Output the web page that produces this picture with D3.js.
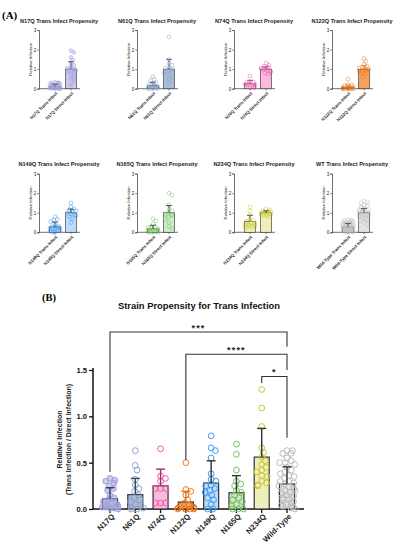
<!DOCTYPE html>
<html><head><meta charset="utf-8">
<script src="https://cdn.jsdelivr.net/npm/d3@7"></script>
<style>body{margin:0;background:#fff}svg{display:block;font-family:"Liberation Sans",Arial,sans-serif}svg text{font-family:"Liberation Sans",Arial,sans-serif}svg text.serif{font-family:"Liberation Serif",serif}</style>
</head><body><svg id="c" width="395" height="550"></svg>
<script>
// ---------- DATA ----------
const strains = ["N17Q","N61Q","N74Q","N122Q","N149Q","N165Q","N234Q","Wild-Type"];
const shortNames = ["N17Q","N61Q","N74Q","N122Q","N149Q","N165Q","N234Q","WT"];
const labelNames = ["N17Q","N61Q","N74Q","N122Q","N149Q","N165Q","N234Q","Wild-Type"];
const transMean = [0.11,0.155,0.25,0.075,0.28,0.175,0.56,0.27];
const transSD   = [0.12,0.175,0.18,0.115,0.24,0.185,0.31,0.185];
const directMean = [1,1,1,1,1,1,1,1];
const directSD   = [0.38,0.5,0.12,0.17,0.18,0.37,0.1,0.22];
const transPoints = [
 [0.33,0.31,0.3,0.28,0.25,0.22,0.2,0.15,0.12,0.1,0.08,0.06,0.05,0.04,0.03,0.02,0.02,0.01,0.01,0.0],
 [0.63,0.47,0.42,0.32,0.26,0.22,0.19,0.15,0.12,0.1,0.08,0.05,0.04,0.02,0.01,0.0,0.0],
 [0.65,0.355,0.33,0.3,0.22,0.22,0.22,0.065,0.065,0.065],
 [0.5,0.21,0.19,0.15,0.1,0.06,0.04,0.03,0.02,0.01,0.01,0.0,0.0,0.0,0.0,0.0],
 [0.79,0.66,0.63,0.55,0.38,0.32,0.3,0.26,0.25,0.22,0.2,0.18,0.15,0.12,0.1,0.05,0.0,0.0],
 [0.7,0.59,0.42,0.3,0.27,0.25,0.2,0.18,0.15,0.12,0.1,0.08,0.05,0.03,0.0,0.0,0.0],
 [1.29,1.09,0.89,0.66,0.61,0.56,0.52,0.48,0.45,0.42,0.4,0.36,0.35,0.3,0.28,0.26,0.25],
 [0.63,0.63,0.6,0.6,0.55,0.52,0.5,0.5,0.48,0.45,0.42,0.4,0.38,0.36,0.35,0.33,0.3,0.3,0.28,0.27,0.25,0.24,0.22,0.2,0.2,0.18,0.17,0.15,0.14,0.12,0.1,0.1,0.08,0.07,0.05,0.04,0.03,0.02,0.01,0.0]
];
const directPoints = [
 [1.95,1.85,1.6,1.45,1.3,1.2,1.1,1.05,1.0,0.95,0.9,0.85,0.8,0.7,0.6,0.5,0.4,0.2],
 [2.65,1.5,1.3,1.2,1.1,1.05,1.0,0.95,0.9,0.85,0.8,0.7,0.6,0.5,0.4,0.3],
 [1.3,1.2,1.15,1.1,1.05,1.0,1.0,0.95,0.9,0.85,0.8,0.75],
 [1.55,1.4,1.25,1.15,1.1,1.05,1.0,1.0,0.95,0.9,0.9,0.85,0.8,0.75,0.6],
 [1.5,1.3,1.2,1.15,1.1,1.05,1.0,0.95,0.9,0.85,0.8,0.7,0.5],
 [2.0,1.9,1.4,1.2,1.1,1.0,0.95,0.9,0.85,0.8,0.7,0.5,0.3,0.2],
 [1.2,1.15,1.1,1.08,1.05,1.02,1.0,0.98,0.95,0.92,0.9,0.88,0.85,0.8],
 [1.6,1.55,1.5,1.4,1.35,1.3,1.25,1.2,1.15,1.1,1.1,1.05,1.05,1.0,1.0,0.95,0.95,0.9,0.9,0.85,0.8,0.75,0.7,0.65,0.6,0.5,0.4]
];
const smallTicks = [0,1,2,3];
const bigTicks = [0,0.5,1.0,1.5];
// significance comparisons
const sigFrom = ["N17Q","N122Q","N234Q"];
const sigTo = ["Wild-Type","Wild-Type","Wild-Type"];
const sigLabel = ["***","****","*"];
const sigLevel = [1.91,1.67,1.43];
const sigLeftEnd = [0.40,0.53,1.36];
const sigRightEnd = [1.75,1.5,0.77];

// ---------- STYLE ----------
const barFill = ["#cbcbef","#aabcd7","#f9bade","#f7a25c","#bcdcfa","#d0eac6","#eeefb9","#e3e3e3"];
const ptColor = ["#a3a3dd","#8ea3c6","#ee58ab","#f2791e","#3f9af2","#74c263","#c8c92c","#bcbcbc"];
const ptFill  = ["rgba(163,163,221,0.55)","none","none","none","none","none","none","none"];
const errColor = ["#3e3e72","#36465f","#9e2c6c","#e5701b","#333","#333","#333","#333"];

const svg = d3.select("#c");

function swarm(vals, ys, r, maxW){
  const placed=[];
  return vals.map((v,i)=>{
    const y=ys(v); let dx=null;
    for(let k=0;k<60 && dx===null;k++){
      const cands = k===0?[0]:[k*0.6,-k*0.6];
      for(const c of cands){
        if(Math.abs(c)>maxW) continue;
        if(placed.every(p=>(p.x-c)**2+(p.y-y)**2 >= (1.7*r)**2)){dx=c;break;}
      }
    }
    if(dx===null) dx = ((i%5)-2)*maxW/2;
    placed.push({x:dx,y:y});
    return dx;
  });
}

// ---------- PANEL A ----------
svg.append("text").attr("class","serif").attr("x",2).attr("y",19).text("(A)")
  .attr("font-weight","bold").attr("font-size",11);

const colX = [39,137,234,332];
const rowY0 = [88.7,232.3];
strains.forEach((s,i)=>{
  const ax = colX[i%4], y0 = rowY0[Math.floor(i/4)];
  const g = svg.append("g");
  const ys = d3.scaleLinear().domain([0,3]).range([y0,y0-58.7]);
  const xs = d3.scalePoint().domain(["t","d"]).range([ax+16,ax+32]);
  g.append("text").attr("x",ax+20).attr("y",y0-66).attr("text-anchor","middle")
    .attr("font-size",5.6).attr("font-weight","bold").attr("fill","#222")
    .text(shortNames[i]+" Trans Infect Propensity");
  const yAx = g.append("g").attr("transform",`translate(${ax},0)`)
    .call(d3.axisLeft(ys).tickValues(smallTicks).tickSize(1.8).tickPadding(1).tickFormat(d3.format("d")));
  yAx.select(".domain").attr("stroke","#333").attr("stroke-width",0.7);
  yAx.selectAll(".tick line").attr("stroke","#333").attr("stroke-width",0.6);
  yAx.selectAll("text").attr("font-size",4.5).attr("fill","#222");
  g.append("text").attr("transform",`translate(${ax-7},${ys(1.5)}) rotate(-90)`)
    .attr("text-anchor","middle").attr("font-size",4.3).attr("fill","#222").text("Relative Infection");
  g.append("line").attr("x1",ax).attr("x2",ax+41).attr("y1",y0).attr("y2",y0).attr("stroke","#333").attr("stroke-width",0.7);
  const groups = [
    {k:"t",m:transMean[i],sd:transSD[i],pts:transPoints[i],lab:labelNames[i]+" Trans Infect"},
    {k:"d",m:directMean[i],sd:directSD[i],pts:directPoints[i],lab:labelNames[i]+" Direct Infect"}
  ];
  groups.forEach(gr=>{
    const cx = xs(gr.k);
    g.append("line").attr("x1",cx).attr("x2",cx).attr("y1",y0).attr("y2",y0+1.8).attr("stroke","#333").attr("stroke-width",0.6);
    g.append("rect").attr("x",cx-5.5).attr("width",11).attr("y",ys(gr.m)).attr("height",y0-ys(gr.m))
      .attr("fill",barFill[i]).attr("stroke","#444").attr("stroke-width",0.7);
    const sorted = gr.pts.slice().sort((a,b)=>b-a);
    const offs = swarm(sorted, ys, 1.9, 5);
    sorted.forEach((v,j)=>{
      g.append("circle").attr("cx",cx+offs[j]).attr("cy",ys(v)).attr("r",1.9)
        .attr("fill",ptFill[i]).attr("stroke",ptColor[i]).attr("stroke-width",0.7).attr("opacity",0.7);
    });
    g.append("line").attr("x1",cx).attr("x2",cx).attr("y1",ys(gr.m)).attr("y2",ys(gr.m+gr.sd)).attr("stroke",errColor[i]).attr("stroke-width",0.8);
    g.append("line").attr("x1",cx-3).attr("x2",cx+3).attr("y1",ys(gr.m+gr.sd)).attr("y2",ys(gr.m+gr.sd)).attr("stroke",errColor[i]).attr("stroke-width",0.8);
    g.append("text").attr("transform",`translate(${cx+1.5},${y0+4}) rotate(-45)`)
      .attr("text-anchor","end").attr("dy","0.35em").attr("font-size",4.3).attr("font-weight","bold").attr("fill","#222").text(gr.lab);
  });
});

// ---------- PANEL B ----------
svg.append("text").attr("class","serif").attr("x",42).attr("y",301).text("(B)")
  .attr("font-weight","bold").attr("font-size",10.5);
svg.append("text").attr("x",199).attr("y",309).attr("text-anchor","middle").attr("font-size",9.4)
  .attr("font-weight","bold").attr("fill","#111").text("Strain Propensity for Trans Infection");

const by = d3.scaleLinear().domain([0,1.5]).range([509,370]);
const bx = d3.scalePoint().domain(strains).range([110,287]);
const B = svg.append("g");
const bAx = B.append("g").attr("transform","translate(93,0)")
  .call(d3.axisLeft(by).tickValues(bigTicks).tickSize(4).tickPadding(2).tickFormat(d3.format(".1f")));
bAx.select(".domain").attr("stroke","#111").attr("stroke-width",1.5).attr("d","M0,368V509");
bAx.selectAll(".tick line").attr("stroke","#111").attr("stroke-width",1.3);
bAx.selectAll("text").attr("font-size",7.6).attr("font-weight","bold").attr("fill","#111");
B.append("text").attr("transform",`translate(62,${by(0.75)}) rotate(-90)`).attr("text-anchor","middle")
  .attr("font-size",7).attr("font-weight","bold").attr("fill","#222").text("Relative Infection");
B.append("text").attr("transform",`translate(71,${by(0.75)}) rotate(-90)`).attr("text-anchor","middle")
  .attr("font-size",7).attr("font-weight","bold").attr("fill","#222").text("(Trans Infection / Direct Infection)");
B.append("line").attr("x1",93).attr("x2",304).attr("y1",509).attr("y2",509).attr("stroke","#111").attr("stroke-width",1.5);

strains.forEach((s,i)=>{
  const cx = bx(s);
  B.append("line").attr("x1",cx).attr("x2",cx).attr("y1",509).attr("y2",513).attr("stroke","#111").attr("stroke-width",1.3);
  B.append("rect").attr("x",cx-7.5).attr("width",15).attr("y",by(transMean[i])).attr("height",509-by(transMean[i]))
    .attr("fill",barFill[i]).attr("stroke","#333").attr("stroke-width",1.2);
  const vals = transPoints[i].slice().sort((a,b)=>b-a);
  const offs = swarm(vals, by, 2.9, 8);
  vals.forEach((v,j)=>{
    B.append("circle").attr("cx",cx+offs[j]).attr("cy",by(v)).attr("r",2.9)
      .attr("fill",ptFill[i]).attr("stroke",ptColor[i]).attr("stroke-width",1);
  });
  const top = by(transMean[i]+transSD[i]);
  B.append("line").attr("x1",cx).attr("x2",cx).attr("y1",by(transMean[i])).attr("y2",top).attr("stroke",errColor[i]).attr("stroke-width",1.4);
  B.append("line").attr("x1",cx-4.5).attr("x2",cx+4.5).attr("y1",top).attr("y2",top).attr("stroke",errColor[i]).attr("stroke-width",1.4);
  B.append("text").attr("transform",`translate(${cx+3},${515}) rotate(-45)`).attr("text-anchor","end").attr("dy","0.35em")
    .attr("font-size",7.8).attr("font-weight","bold").attr("fill","#222").text(s);
});

sigFrom.forEach((f,k)=>{
  const x1 = bx(f), x2 = bx(sigTo[k]), yl = by(sigLevel[k]);
  B.append("path").attr("d",`M${x1},${by(sigLeftEnd[k])}V${yl}H${x2}V${by(sigRightEnd[k])}`)
    .attr("fill","none").attr("stroke","#333").attr("stroke-width",1.1);
  B.append("text").attr("x",(x1+x2)/2).attr("y",yl-1.5).attr("text-anchor","middle")
    .attr("font-size",9).attr("font-weight","bold").attr("letter-spacing",1.2).attr("fill","#222").text(sigLabel[k]);
});
</script></body></html>
